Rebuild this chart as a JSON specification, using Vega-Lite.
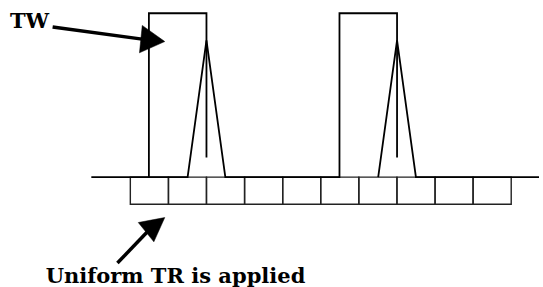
{
  "$schema": "https://vega.github.io/schema/vega-lite/v6.json",
  "width": 543,
  "height": 287,
  "autosize": {"type": "fit", "contains": "padding"},
  "padding": 0,
  "background": "white",
  "config": {"view": {"stroke": null}, "axis": {"disable": true}},
  "datasets": {
    "paths": [
      {"seg": "A", "o": 1, "x": 92, "y": 177.7},
      {"seg": "A", "o": 2, "x": 189, "y": 177.7},
      {"seg": "A", "o": 3, "x": 208, "y": 40.5},
      {"seg": "A", "o": 4, "x": 227, "y": 177.7},
      {"seg": "A", "o": 5, "x": 342, "y": 177.7},
      {"seg": "A", "o": 6, "x": 342, "y": 13.3},
      {"seg": "A", "o": 7, "x": 400, "y": 13.3},
      {"seg": "A", "o": 8, "x": 400, "y": 158},
      {"seg": "B", "o": 1, "x": 150, "y": 177.7},
      {"seg": "B", "o": 2, "x": 150, "y": 13.3},
      {"seg": "B", "o": 3, "x": 208, "y": 13.3},
      {"seg": "B", "o": 4, "x": 208, "y": 158},
      {"seg": "C", "o": 1, "x": 381, "y": 177.7},
      {"seg": "C", "o": 2, "x": 400, "y": 40.5},
      {"seg": "C", "o": 3, "x": 419, "y": 177.7},
      {"seg": "C", "o": 4, "x": 543, "y": 177.7}
    ],
    "boxes": [
      {"x": 131.3, "x2": 169.7, "y": 177.7, "y2": 205},
      {"x": 169.7, "x2": 208, "y": 177.7, "y2": 205},
      {"x": 208, "x2": 246.4, "y": 177.7, "y2": 205},
      {"x": 246.4, "x2": 284.8, "y": 177.7, "y2": 205},
      {"x": 284.8, "x2": 323.1, "y": 177.7, "y2": 205},
      {"x": 323.1, "x2": 361.5, "y": 177.7, "y2": 205},
      {"x": 361.5, "x2": 399.9, "y": 177.7, "y2": 205},
      {"x": 399.9, "x2": 438.3, "y": 177.7, "y2": 205},
      {"x": 438.3, "x2": 476.6, "y": 177.7, "y2": 205},
      {"x": 476.6, "x2": 515, "y": 177.7, "y2": 205}
    ],
    "shafts": [
      {"id": "tw", "o": 1, "x": 53, "y": 27},
      {"id": "tw", "o": 2, "x": 145, "y": 39.5},
      {"id": "tr", "o": 1, "x": 118.3, "y": 264},
      {"id": "tr", "o": 2, "x": 148, "y": 233}
    ],
    "heads": [
      {"id": "tw", "x": 140.5, "y": 53, "y2": 53},
      {"id": "tw", "x": 143.3, "y": 25.5, "y2": 51.76},
      {"id": "tw", "x": 166, "y": 41.7, "y2": 41.7},
      {"id": "tr", "x": 139.3, "y": 223.3, "y2": 223.3},
      {"id": "tr", "x": 155, "y": 220.36, "y2": 242.7},
      {"id": "tr", "x": 166, "y": 218.3, "y2": 218.3}
    ],
    "labels": [
      {"text": "TW", "x": 10, "y": 28.5},
      {"text": "Uniform TR is applied", "x": 46, "y": 284}
    ]
  },
  "layer": [
    {
      "data": {"name": "boxes"},
      "mark": {"type": "rect", "fill": null, "filled": false, "stroke": "#222", "strokeWidth": 1.4},
      "encoding": {
        "x": {"field": "x", "type": "quantitative", "scale": {"domain": [0, 543], "nice": false, "zero": false}},
        "x2": {"field": "x2"},
        "y": {"field": "y", "type": "quantitative", "scale": {"domain": [0, 287], "reverse": true, "nice": false, "zero": false}},
        "y2": {"field": "y2"}
      }
    },
    {
      "data": {"name": "paths"},
      "mark": {"type": "line", "color": "black", "strokeWidth": 1.8, "strokeJoin": "miter"},
      "encoding": {
        "x": {"field": "x", "type": "quantitative"},
        "y": {"field": "y", "type": "quantitative"},
        "detail": {"field": "seg"},
        "order": {"field": "o"}
      }
    },
    {
      "data": {"name": "shafts"},
      "mark": {"type": "line", "color": "black", "strokeWidth": 3.5},
      "encoding": {
        "x": {"field": "x", "type": "quantitative"},
        "y": {"field": "y", "type": "quantitative"},
        "detail": {"field": "id"},
        "order": {"field": "o"}
      }
    },
    {
      "data": {"name": "heads"},
      "mark": {"type": "area", "color": "black", "opacity": 1, "stroke": "black", "strokeWidth": 0.5},
      "encoding": {
        "x": {"field": "x", "type": "quantitative"},
        "y": {"field": "y", "type": "quantitative"},
        "y2": {"field": "y2"},
        "detail": {"field": "id"}
      }
    },
    {
      "data": {"name": "labels"},
      "mark": {"type": "text", "align": "left", "baseline": "alphabetic", "font": "DejaVu Serif", "fontWeight": "bold", "fontSize": 21, "color": "black"},
      "encoding": {
        "x": {"field": "x", "type": "quantitative"},
        "y": {"field": "y", "type": "quantitative"},
        "text": {"field": "text"}
      }
    }
  ]
}
